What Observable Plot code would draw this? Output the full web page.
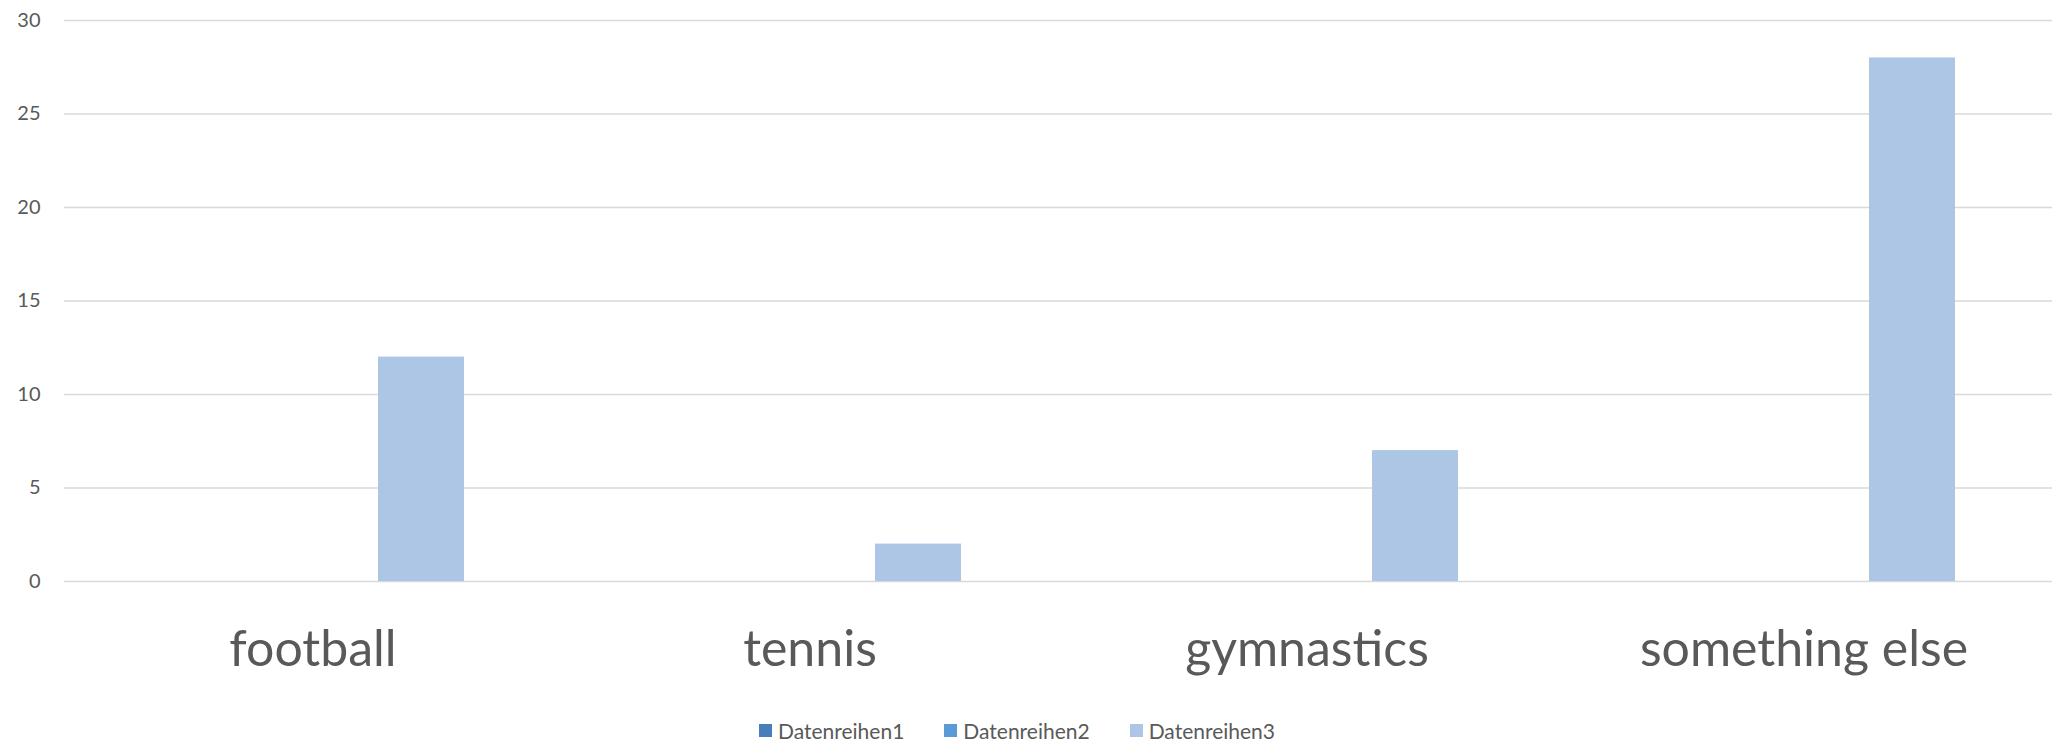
<!DOCTYPE html>
<html>
<head>
<meta charset="utf-8">
<script src="https://cdn.jsdelivr.net/npm/d3@7"></script>
<script src="https://cdn.jsdelivr.net/npm/@observablehq/plot@0.6"></script>
<style>
  html, body { margin: 0; padding: 0; background: #ffffff; }
  body { width: 2056px; height: 746px; overflow: hidden; font-family: Lato, "Open Sans", sans-serif; }
  #legend { display: flex; justify-content: center; align-items: center; gap: 40px; margin-top: 18px; margin-left: -22px; font-size: 21px; color: #595959; }
  .item { display: flex; align-items: center; gap: 6px; }
  .sw { width: 13px; height: 13px; display: inline-block; }
</style>
</head>
<body>
<div id="chart"></div>
<div id="legend"></div>
<script>
const categories = ["football", "tennis", "gymnastics", "something else"];
const series = ["Datenreihen1", "Datenreihen2", "Datenreihen3"];
const values1 = [0, 0, 0, 0];
const values2 = [0, 0, 0, 0];
const values3 = [12, 2, 7, 28];
const yTicks = [0, 5, 10, 15, 20, 25, 30];
const colors = ["#4a7ebb", "#5b9bd5", "#aec6e6"];

const seriesValues = [values1, values2, values3];
const data = categories.flatMap((c, i) =>
  series.map((s, j) => ({ category: c, series: s, value: seriesValues[j][i] }))
);

const chart = Plot.plot({
  width: 2056,
  height: 700,
  marginLeft: 63,
  marginRight: 4,
  marginTop: 20,
  marginBottom: 119,
  style: { fontFamily: "Lato, 'Open Sans', sans-serif", color: "#595959", background: "#ffffff" },
  fx: { domain: categories, padding: 0, label: null },
  x: { domain: series, paddingInner: 0.209, paddingOuter: 0.864, axis: null },
  y: { domain: [0, 30], label: null },
  color: { domain: series, range: colors },
  marks: [
    Plot.gridY(yTicks, { stroke: "#d9d9d9", strokeOpacity: 1, strokeWidth: 1.5 }),
    Plot.axisY(yTicks, { tickSize: 0, tickPadding: 24, fontSize: 20, fill: "#595959", label: null }),
    Plot.axisFx({ anchor: "bottom", tickSize: 0, tickPadding: 49, fontSize: 50, fill: "#595959", label: null }),
    Plot.barY(data, { fx: "category", x: "series", y: "value", fill: "series" })
  ]
});
document.getElementById("chart").appendChild(chart);

const legend = document.getElementById("legend");
series.forEach((s, i) => {
  const item = document.createElement("div");
  item.className = "item";
  const sw = document.createElement("span");
  sw.className = "sw";
  sw.style.background = colors[i];
  const t = document.createElement("span");
  t.textContent = s;
  item.appendChild(sw);
  item.appendChild(t);
  legend.appendChild(item);
});
</script>
</body>
</html>
